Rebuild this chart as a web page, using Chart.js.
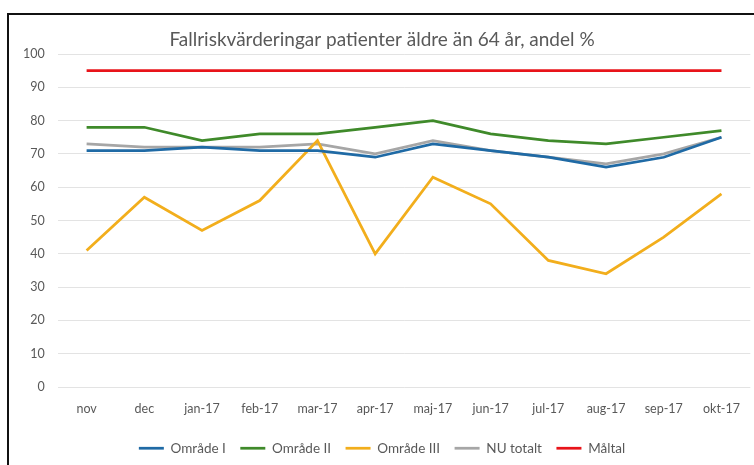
<!DOCTYPE html>
<html>
<head>
<meta charset="utf-8">
<script src="https://cdn.jsdelivr.net/npm/chart.js@4/dist/chart.umd.min.js"></script>
<style>
html,body{margin:0;padding:0;background:#fff;}
#wrap{width:754px;height:465px;position:relative;}
</style>
</head>
<body>
<div id="wrap"><canvas id="c" width="754" height="465"></canvas></div>
<script>
const categories = ["nov","dec","jan-17","feb-17","mar-17","apr-17","maj-17","jun-17","jul-17","aug-17","sep-17","okt-17"];
const omradeI   = [71,71,72,71,71,69,73,71,69,66,69,75];
const omradeII  = [78,78,74,76,76,78,80,76,74,73,75,77];
const omradeIII = [41,57,47,56,74,40,63,55,38,34,45,58];
const nuTotalt  = [73,72,72,72,73,70,74,71,69,67,70,75];
const maltal    = [95,95,95,95,95,95,95,95,95,95,95,95];
const yTicks = [0,10,20,30,40,50,60,70,80,90,100];
const titleText = "Fallriskvärderingar patienter äldre än 64 år, andel %";

const FONT = 'Lato, "Open Sans", sans-serif';
const LEG_FONT = 13.5, LEG_PAD = 14.5;

const frame = {
  id: 'frame',
  beforeDraw(chart){
    const ctx = chart.ctx;
    ctx.save();
    ctx.fillStyle = '#fff';
    ctx.fillRect(0,0,chart.width,chart.height);
    ctx.strokeStyle = '#111';
    ctx.lineWidth = 2;
    ctx.beginPath();
    ctx.moveTo(8, chart.height + 5);
    ctx.lineTo(8, 14);
    ctx.lineTo(chart.width + 5, 14);
    ctx.stroke();
    ctx.restore();
  }
};

const ds = (label, data, color) => ({
  label, data, borderColor: color, backgroundColor: color,
  borderWidth: 2.75, pointRadius: 0, pointHoverRadius: 0, tension: 0, fill: false
});

new Chart(document.getElementById('c'), {
  type: 'line',
  data: {
    labels: categories,
    datasets: [
      ds('Område I', omradeI, '#1f6aa5'),
      ds('Område II', omradeII, '#3f8a2a'),
      ds('Område III', omradeIII, '#f2ae1c'),
      ds('NU totalt', nuTotalt, '#a6a6a6'),
      ds('Måltal', maltal, '#e8141a')
    ]
  },
  options: {
    responsive: false,
    animation: false,
    devicePixelRatio: 1,
    layout: { padding: { top: 28.5, left: 10, right: 0, bottom: 0 } },
    plugins: {
      title: {
        display: true, text: titleText, color: '#595959',
        font: { family: FONT, size: 19, weight: 'normal' },
        padding: { top: 0, bottom: 2.7 }
      },
      legend: {
        position: 'bottom',
        labels: {
          usePointStyle: true, pointStyle: 'line', pointStyleWidth: 25,
          boxWidth: 25, boxHeight: 3,
          color: '#595959',
          font: { family: FONT, size: LEG_FONT },
          padding: LEG_PAD
        }
      },
      tooltip: { enabled: false }
    },
    scales: {
      x: {
        offset: true,
        grid: { display: false, drawTicks: false, offset: true },
        border: { display: false },
        ticks: { color: '#595959', padding: 14, maxRotation: 0, autoSkip: false,
          font: { family: FONT, size: 12.5 } },
        afterFit(axis){ axis.height = 465 - (LEG_FONT + LEG_PAD + 10) - 387; }
      },
      y: {
        min: 0, max: 100,
        afterBuildTicks(axis){ axis.ticks = yTicks.map(v => ({value: v})); },
        grid: { color: '#e3e3e3', lineWidth: 1, drawTicks: false },
        border: { display: false },
        ticks: { color: '#595959', padding: 13,
          font: { family: FONT, size: 12.5 } }
      }
    }
  },
  plugins: [frame]
});
</script>
</body>
</html>
